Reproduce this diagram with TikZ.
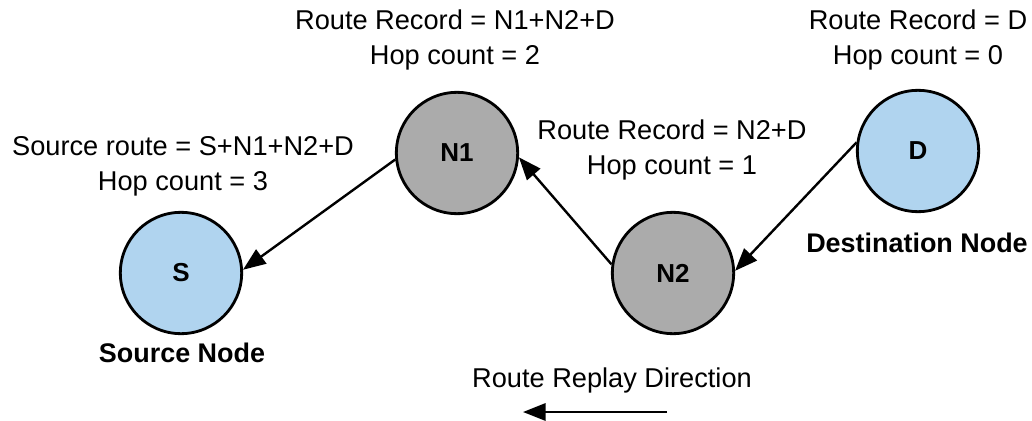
\documentclass[tikz,border=0pt]{standalone}
\usepackage{fontspec}
\setmainfont{Liberation Sans}
\usetikzlibrary{positioning, arrows.meta}
\definecolor{nodeblue}{HTML}{B0D4EF}
\definecolor{nodegray}{HTML}{ABABAB}

\begin{document}
\begin{tikzpicture}[
        x=0.75pt, y=-0.75pt,
        routenode/.style={circle, draw, line width=2.1pt, minimum size=91pt, inner sep=0pt, font=\fontsize{19.5}{22}\selectfont\bfseries},
        info/.style={align=center, font=\fontsize{20.4}{26.2}\selectfont},
        caption/.style={font=\fontsize{20.2}{22}\selectfont\bfseries},
        arrow/.style={-{Triangle[length=17pt, width=13pt]}, line width=1.8pt}
    ]
        \useasboundingbox (0,0) rectangle (1032,421);

        \node[routenode, fill=nodeblue] (s) at (181,273) {S};
        \node[routenode, fill=nodegray] (n1) at (457,153) {N1};
        \node[routenode, fill=nodegray] (n2) at (673,273) {N2};
        \node[routenode, fill=nodeblue] (d) at (918,151) {D};

        \draw[arrow] (d.172) -- (n2.2);
        \draw[arrow] (n2.172) -- (n1.-4);
        \draw[arrow] (n1.186) -- (s.3);

        % labels above and beside the nodes
        \node[info] (recn1) at (455,40) {Route Record = N1+N2+D\\ Hop count = 2};
        \node[info] (recd) at (918,40) {Route Record = D\\ Hop count = 0};
        \node[info] (recs) at (183,166) {Source route = S+N1+N2+D\\ Hop count = 3};
        \node[info] (recn2) at (672,150) {Route Record = N2+D\\ Hop count = 1};

        \node[caption] (srcname) at (182,353) {Source Node};
        \node[caption] (dstname) at (917,243) {Destination Node};

        \node[info] (replay) at (612,380) {Route Replay Direction};
        \coordinate (replayr) at (667,412);
        \coordinate (replayl) at (523,412);
        \draw[arrow] (replayr) -- (replayl);
    \end{tikzpicture}
\end{document}
